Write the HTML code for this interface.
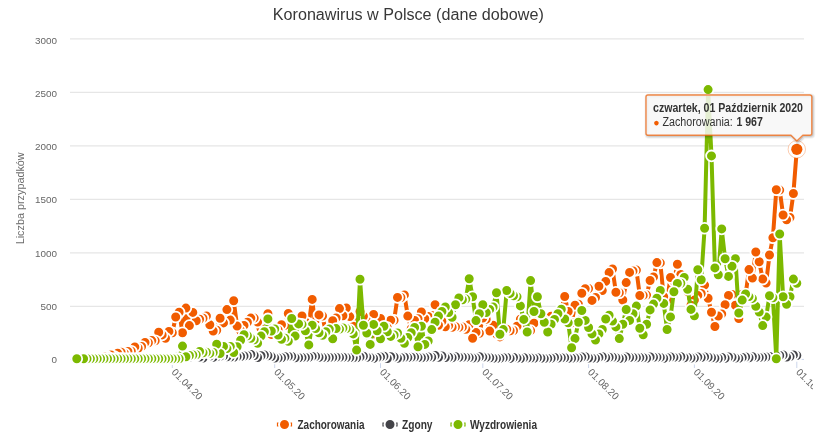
<!DOCTYPE html>
<html lang="pl"><head><meta charset="utf-8"><title>Koronawirus w Polsce (dane dobowe)</title>
<style>html,body{margin:0;padding:0;background:#fff;overflow:hidden}body{width:825px;height:441px}</style></head>
<body>
<svg width="825" height="441" viewBox="0 0 825 441" style="display:block;will-change:transform;font-family:'Liberation Sans',sans-serif">
<rect width="825" height="441" fill="#fff"/>
<path d="M70 38.9 H804" stroke="#e6e6e6" stroke-width="1.2"/>
<path d="M70 92.4 H804" stroke="#e6e6e6" stroke-width="1.2"/>
<path d="M70 145.9 H804" stroke="#e6e6e6" stroke-width="1.2"/>
<path d="M70 199.4 H804" stroke="#e6e6e6" stroke-width="1.2"/>
<path d="M70 252.9 H804" stroke="#e6e6e6" stroke-width="1.2"/>
<path d="M70 306.4 H804" stroke="#e6e6e6" stroke-width="1.2"/>
<path d="M70 359.4 H804" stroke="#ccd6eb" stroke-width="1"/>
<text x="35.0" y="43.8" font-size="9.5" fill="#666" textLength="22.0" lengthAdjust="spacingAndGlyphs">3000</text>
<text x="35.0" y="97.0" font-size="9.5" fill="#666" textLength="22.0" lengthAdjust="spacingAndGlyphs">2500</text>
<text x="35.0" y="150.2" font-size="9.5" fill="#666" textLength="22.0" lengthAdjust="spacingAndGlyphs">2000</text>
<text x="35.0" y="203.4" font-size="9.5" fill="#666" textLength="22.0" lengthAdjust="spacingAndGlyphs">1500</text>
<text x="35.0" y="256.6" font-size="9.5" fill="#666" textLength="22.0" lengthAdjust="spacingAndGlyphs">1000</text>
<text x="40.5" y="309.8" font-size="9.5" fill="#666" textLength="16.5" lengthAdjust="spacingAndGlyphs">500</text>
<text x="51.5" y="363.0" font-size="9.5" fill="#666" textLength="5.5" lengthAdjust="spacingAndGlyphs">0</text>
<text transform="translate(24.3,198.3) rotate(-90)" text-anchor="middle" font-size="10.7" fill="#6c6c6c" textLength="92" lengthAdjust="spacingAndGlyphs">Liczba przypadków</text>
<text x="408.3" y="20" text-anchor="middle" font-size="15.6" fill="#383838" textLength="271" lengthAdjust="spacingAndGlyphs">Koronawirus w Polsce (dane dobowe)</text>
<defs><clipPath id="c"><rect x="0" y="0" width="813" height="441"/></clipPath></defs>
<g clip-path="url(#c)">
<path d="M172.3 359 V368" stroke="#ccd6eb" stroke-width="1"/>
<text transform="translate(171.0,372.8) rotate(45)" font-size="10" fill="#666">01.04.20</text>
<path d="M274.7 359 V368" stroke="#ccd6eb" stroke-width="1"/>
<text transform="translate(273.4,372.8) rotate(45)" font-size="10" fill="#666">01.05.20</text>
<path d="M380.5 359 V368" stroke="#ccd6eb" stroke-width="1"/>
<text transform="translate(379.2,372.8) rotate(45)" font-size="10" fill="#666">01.06.20</text>
<path d="M482.8 359 V368" stroke="#ccd6eb" stroke-width="1"/>
<text transform="translate(481.5,372.8) rotate(45)" font-size="10" fill="#666">01.07.20</text>
<path d="M588.6 359 V368" stroke="#ccd6eb" stroke-width="1"/>
<text transform="translate(587.3,372.8) rotate(45)" font-size="10" fill="#666">01.08.20</text>
<path d="M694.4 359 V368" stroke="#ccd6eb" stroke-width="1"/>
<text transform="translate(693.1,372.8) rotate(45)" font-size="10" fill="#666">01.09.20</text>
<path d="M796.8 359 V368" stroke="#ccd6eb" stroke-width="1"/>
<text transform="translate(795.5,372.8) rotate(45)" font-size="10" fill="#666">01.10.20</text>
</g>
<path d="M76.8 358.6 L83.6 358.3 L87.0 358.6 L90.4 358.2 L93.8 358.1 L97.2 358.2 L100.6 357.7 L104.0 356.6 L107.5 356.9 L110.9 354.9 L114.3 356.5 L117.7 353.2 L121.1 352.2 L124.5 353.5 L127.9 351.5 L131.3 351.2 L134.8 346.9 L138.2 348.3 L141.6 346.5 L145.0 342.5 L148.4 342.7 L151.8 340.6 L155.2 340.8 L158.7 332.2 L162.1 334.9 L165.5 338.2 L168.9 331.4 L172.3 332.8 L175.7 317.0 L179.1 312.2 L182.5 332.7 L185.9 308.1 L189.4 325.6 L192.8 312.4 L196.2 320.7 L199.6 319.3 L203.0 318.2 L206.4 316.0 L209.8 324.8 L213.2 331.0 L216.7 330.2 L220.1 318.2 L223.5 322.9 L226.9 309.6 L230.3 320.1 L233.7 300.7 L237.1 326.1 L240.6 330.7 L244.0 325.4 L247.4 322.3 L250.8 318.1 L254.2 318.1 L257.6 322.1 L261.0 328.4 L264.4 325.1 L267.9 313.8 L271.3 334.4 L274.7 334.4 L278.1 330.0 L281.5 324.8 L284.9 325.4 L288.3 313.5 L291.7 325.8 L295.1 326.0 L298.6 324.7 L302.0 316.0 L305.4 322.0 L308.8 323.6 L312.2 299.4 L315.6 328.6 L319.0 314.9 L322.5 316.0 L325.9 333.0 L329.3 329.7 L332.7 320.8 L336.1 317.9 L339.5 308.6 L342.9 315.7 L346.3 308.0 L349.8 316.6 L353.2 326.2 L356.6 322.4 L360.0 311.5 L363.4 316.2 L366.8 321.2 L370.2 323.6 L373.6 314.4 L377.1 335.4 L380.5 318.4 L383.9 334.2 L387.3 327.6 L390.7 320.3 L394.1 320.2 L397.5 297.4 L400.9 297.5 L404.4 294.9 L407.8 316.1 L411.2 328.7 L414.6 320.5 L418.0 318.7 L421.4 311.9 L424.8 318.8 L428.2 316.5 L431.7 315.4 L435.1 304.8 L438.5 325.3 L441.9 321.2 L445.3 326.7 L448.7 325.6 L452.1 327.2 L455.5 326.8 L458.9 327.4 L462.4 327.0 L465.8 329.3 L469.2 324.7 L472.6 338.2 L476.0 332.4 L479.4 333.3 L482.8 318.0 L486.2 319.2 L489.7 331.1 L493.1 325.3 L496.5 334.1 L499.9 336.9 L503.3 331.3 L506.7 329.2 L510.1 330.8 L513.5 330.5 L517.0 326.2 L520.4 319.3 L523.8 326.9 L527.2 330.3 L530.6 330.6 L534.0 323.2 L537.4 321.1 L540.9 322.6 L544.3 320.6 L547.7 329.0 L551.1 316.2 L554.5 318.2 L557.9 314.2 L561.3 309.9 L564.7 296.5 L568.2 311.5 L571.6 322.8 L575.0 305.3 L578.4 304.2 L581.8 293.2 L585.2 288.8 L588.6 288.6 L592.0 300.4 L595.5 297.5 L598.9 286.3 L602.3 290.6 L605.7 281.4 L609.1 272.6 L612.5 269.0 L615.9 292.3 L619.3 292.8 L622.8 300.0 L626.2 282.6 L629.6 272.4 L633.0 270.9 L636.4 270.1 L639.8 295.5 L643.2 295.4 L646.6 295.1 L650.1 280.5 L653.5 277.0 L656.9 262.6 L660.3 262.9 L663.7 296.8 L667.1 300.4 L670.5 277.5 L673.9 281.1 L677.4 264.3 L680.8 274.5 L684.2 277.9 L687.6 291.5 L691.0 305.3 L694.4 300.1 L697.8 295.4 L701.2 293.5 L704.6 285.1 L708.1 298.3 L711.5 312.2 L714.9 326.5 L718.3 316.1 L721.7 313.9 L725.1 304.8 L728.5 295.5 L732.0 294.5 L735.4 305.3 L738.8 318.6 L742.2 294.3 L745.6 294.8 L749.0 269.6 L752.4 278.1 L755.8 252.0 L759.2 261.8 L762.7 279.1 L766.1 283.0 L769.5 255.0 L772.9 237.8 L776.3 189.7 L779.7 190.1 L783.1 215.0 L786.6 219.7 L790.0 217.5 L793.4 193.5 L796.8 149.3" fill="none" stroke="#f15c00" stroke-width="4" stroke-linejoin="round" stroke-linecap="round"/>
<g fill="#f15c00" stroke="#fff" stroke-width="1.8">
<circle cx="793.4" cy="193.5" r="5.4"/>
<circle cx="790.0" cy="217.5" r="5.4"/>
<circle cx="786.6" cy="219.7" r="5.4"/>
<circle cx="783.1" cy="215.0" r="5.4"/>
<circle cx="779.7" cy="190.1" r="5.4"/>
<circle cx="776.3" cy="189.7" r="5.4"/>
<circle cx="772.9" cy="237.8" r="5.4"/>
<circle cx="769.5" cy="255.0" r="5.4"/>
<circle cx="766.1" cy="283.0" r="5.4"/>
<circle cx="762.7" cy="279.1" r="5.4"/>
<circle cx="759.2" cy="261.8" r="5.4"/>
<circle cx="755.8" cy="252.0" r="5.4"/>
<circle cx="752.4" cy="278.1" r="5.4"/>
<circle cx="749.0" cy="269.6" r="5.4"/>
<circle cx="745.6" cy="294.8" r="5.4"/>
<circle cx="742.2" cy="294.3" r="5.4"/>
<circle cx="738.8" cy="318.6" r="5.4"/>
<circle cx="735.4" cy="305.3" r="5.4"/>
<circle cx="732.0" cy="294.5" r="5.4"/>
<circle cx="728.5" cy="295.5" r="5.4"/>
<circle cx="725.1" cy="304.8" r="5.4"/>
<circle cx="721.7" cy="313.9" r="5.4"/>
<circle cx="718.3" cy="316.1" r="5.4"/>
<circle cx="714.9" cy="326.5" r="5.4"/>
<circle cx="711.5" cy="312.2" r="5.4"/>
<circle cx="708.1" cy="298.3" r="5.4"/>
<circle cx="704.6" cy="285.1" r="5.4"/>
<circle cx="701.2" cy="293.5" r="5.4"/>
<circle cx="697.8" cy="295.4" r="5.4"/>
<circle cx="694.4" cy="300.1" r="5.4"/>
<circle cx="691.0" cy="305.3" r="5.4"/>
<circle cx="687.6" cy="291.5" r="5.4"/>
<circle cx="684.2" cy="277.9" r="5.4"/>
<circle cx="680.8" cy="274.5" r="5.4"/>
<circle cx="677.4" cy="264.3" r="5.4"/>
<circle cx="673.9" cy="281.1" r="5.4"/>
<circle cx="670.5" cy="277.5" r="5.4"/>
<circle cx="667.1" cy="300.4" r="5.4"/>
<circle cx="663.7" cy="296.8" r="5.4"/>
<circle cx="660.3" cy="262.9" r="5.4"/>
<circle cx="656.9" cy="262.6" r="5.4"/>
<circle cx="653.5" cy="277.0" r="5.4"/>
<circle cx="650.1" cy="280.5" r="5.4"/>
<circle cx="646.6" cy="295.1" r="5.4"/>
<circle cx="643.2" cy="295.4" r="5.4"/>
<circle cx="639.8" cy="295.5" r="5.4"/>
<circle cx="636.4" cy="270.1" r="5.4"/>
<circle cx="633.0" cy="270.9" r="5.4"/>
<circle cx="629.6" cy="272.4" r="5.4"/>
<circle cx="626.2" cy="282.6" r="5.4"/>
<circle cx="622.8" cy="300.0" r="5.4"/>
<circle cx="619.3" cy="292.8" r="5.4"/>
<circle cx="615.9" cy="292.3" r="5.4"/>
<circle cx="612.5" cy="269.0" r="5.4"/>
<circle cx="609.1" cy="272.6" r="5.4"/>
<circle cx="605.7" cy="281.4" r="5.4"/>
<circle cx="602.3" cy="290.6" r="5.4"/>
<circle cx="598.9" cy="286.3" r="5.4"/>
<circle cx="595.5" cy="297.5" r="5.4"/>
<circle cx="592.0" cy="300.4" r="5.4"/>
<circle cx="588.6" cy="288.6" r="5.4"/>
<circle cx="585.2" cy="288.8" r="5.4"/>
<circle cx="581.8" cy="293.2" r="5.4"/>
<circle cx="578.4" cy="304.2" r="5.4"/>
<circle cx="575.0" cy="305.3" r="5.4"/>
<circle cx="571.6" cy="322.8" r="5.4"/>
<circle cx="568.2" cy="311.5" r="5.4"/>
<circle cx="564.7" cy="296.5" r="5.4"/>
<circle cx="561.3" cy="309.9" r="5.4"/>
<circle cx="557.9" cy="314.2" r="5.4"/>
<circle cx="554.5" cy="318.2" r="5.4"/>
<circle cx="551.1" cy="316.2" r="5.4"/>
<circle cx="547.7" cy="329.0" r="5.4"/>
<circle cx="544.3" cy="320.6" r="5.4"/>
<circle cx="540.9" cy="322.6" r="5.4"/>
<circle cx="537.4" cy="321.1" r="5.4"/>
<circle cx="534.0" cy="323.2" r="5.4"/>
<circle cx="530.6" cy="330.6" r="5.4"/>
<circle cx="527.2" cy="330.3" r="5.4"/>
<circle cx="523.8" cy="326.9" r="5.4"/>
<circle cx="520.4" cy="319.3" r="5.4"/>
<circle cx="517.0" cy="326.2" r="5.4"/>
<circle cx="513.5" cy="330.5" r="5.4"/>
<circle cx="510.1" cy="330.8" r="5.4"/>
<circle cx="506.7" cy="329.2" r="5.4"/>
<circle cx="503.3" cy="331.3" r="5.4"/>
<circle cx="499.9" cy="336.9" r="5.4"/>
<circle cx="496.5" cy="334.1" r="5.4"/>
<circle cx="493.1" cy="325.3" r="5.4"/>
<circle cx="489.7" cy="331.1" r="5.4"/>
<circle cx="486.2" cy="319.2" r="5.4"/>
<circle cx="482.8" cy="318.0" r="5.4"/>
<circle cx="479.4" cy="333.3" r="5.4"/>
<circle cx="476.0" cy="332.4" r="5.4"/>
<circle cx="472.6" cy="338.2" r="5.4"/>
<circle cx="469.2" cy="324.7" r="5.4"/>
<circle cx="465.8" cy="329.3" r="5.4"/>
<circle cx="462.4" cy="327.0" r="5.4"/>
<circle cx="458.9" cy="327.4" r="5.4"/>
<circle cx="455.5" cy="326.8" r="5.4"/>
<circle cx="452.1" cy="327.2" r="5.4"/>
<circle cx="448.7" cy="325.6" r="5.4"/>
<circle cx="445.3" cy="326.7" r="5.4"/>
<circle cx="441.9" cy="321.2" r="5.4"/>
<circle cx="438.5" cy="325.3" r="5.4"/>
<circle cx="435.1" cy="304.8" r="5.4"/>
<circle cx="431.7" cy="315.4" r="5.4"/>
<circle cx="428.2" cy="316.5" r="5.4"/>
<circle cx="424.8" cy="318.8" r="5.4"/>
<circle cx="421.4" cy="311.9" r="5.4"/>
<circle cx="418.0" cy="318.7" r="5.4"/>
<circle cx="414.6" cy="320.5" r="5.4"/>
<circle cx="411.2" cy="328.7" r="5.4"/>
<circle cx="407.8" cy="316.1" r="5.4"/>
<circle cx="404.4" cy="294.9" r="5.4"/>
<circle cx="400.9" cy="297.5" r="5.4"/>
<circle cx="397.5" cy="297.4" r="5.4"/>
<circle cx="394.1" cy="320.2" r="5.4"/>
<circle cx="390.7" cy="320.3" r="5.4"/>
<circle cx="387.3" cy="327.6" r="5.4"/>
<circle cx="383.9" cy="334.2" r="5.4"/>
<circle cx="380.5" cy="318.4" r="5.4"/>
<circle cx="377.1" cy="335.4" r="5.4"/>
<circle cx="373.6" cy="314.4" r="5.4"/>
<circle cx="370.2" cy="323.6" r="5.4"/>
<circle cx="366.8" cy="321.2" r="5.4"/>
<circle cx="363.4" cy="316.2" r="5.4"/>
<circle cx="360.0" cy="311.5" r="5.4"/>
<circle cx="356.6" cy="322.4" r="5.4"/>
<circle cx="353.2" cy="326.2" r="5.4"/>
<circle cx="349.8" cy="316.6" r="5.4"/>
<circle cx="346.3" cy="308.0" r="5.4"/>
<circle cx="342.9" cy="315.7" r="5.4"/>
<circle cx="339.5" cy="308.6" r="5.4"/>
<circle cx="336.1" cy="317.9" r="5.4"/>
<circle cx="332.7" cy="320.8" r="5.4"/>
<circle cx="329.3" cy="329.7" r="5.4"/>
<circle cx="325.9" cy="333.0" r="5.4"/>
<circle cx="322.5" cy="316.0" r="5.4"/>
<circle cx="319.0" cy="314.9" r="5.4"/>
<circle cx="315.6" cy="328.6" r="5.4"/>
<circle cx="312.2" cy="299.4" r="5.4"/>
<circle cx="308.8" cy="323.6" r="5.4"/>
<circle cx="305.4" cy="322.0" r="5.4"/>
<circle cx="302.0" cy="316.0" r="5.4"/>
<circle cx="298.6" cy="324.7" r="5.4"/>
<circle cx="295.1" cy="326.0" r="5.4"/>
<circle cx="291.7" cy="325.8" r="5.4"/>
<circle cx="288.3" cy="313.5" r="5.4"/>
<circle cx="284.9" cy="325.4" r="5.4"/>
<circle cx="281.5" cy="324.8" r="5.4"/>
<circle cx="278.1" cy="330.0" r="5.4"/>
<circle cx="274.7" cy="334.4" r="5.4"/>
<circle cx="271.3" cy="334.4" r="5.4"/>
<circle cx="267.9" cy="313.8" r="5.4"/>
<circle cx="264.4" cy="325.1" r="5.4"/>
<circle cx="261.0" cy="328.4" r="5.4"/>
<circle cx="257.6" cy="322.1" r="5.4"/>
<circle cx="254.2" cy="318.1" r="5.4"/>
<circle cx="250.8" cy="318.1" r="5.4"/>
<circle cx="247.4" cy="322.3" r="5.4"/>
<circle cx="244.0" cy="325.4" r="5.4"/>
<circle cx="240.6" cy="330.7" r="5.4"/>
<circle cx="237.1" cy="326.1" r="5.4"/>
<circle cx="233.7" cy="300.7" r="5.4"/>
<circle cx="230.3" cy="320.1" r="5.4"/>
<circle cx="226.9" cy="309.6" r="5.4"/>
<circle cx="223.5" cy="322.9" r="5.4"/>
<circle cx="220.1" cy="318.2" r="5.4"/>
<circle cx="216.7" cy="330.2" r="5.4"/>
<circle cx="213.2" cy="331.0" r="5.4"/>
<circle cx="209.8" cy="324.8" r="5.4"/>
<circle cx="206.4" cy="316.0" r="5.4"/>
<circle cx="203.0" cy="318.2" r="5.4"/>
<circle cx="199.6" cy="319.3" r="5.4"/>
<circle cx="196.2" cy="320.7" r="5.4"/>
<circle cx="192.8" cy="312.4" r="5.4"/>
<circle cx="189.4" cy="325.6" r="5.4"/>
<circle cx="185.9" cy="308.1" r="5.4"/>
<circle cx="182.5" cy="332.7" r="5.4"/>
<circle cx="179.1" cy="312.2" r="5.4"/>
<circle cx="175.7" cy="317.0" r="5.4"/>
<circle cx="172.3" cy="332.8" r="5.4"/>
<circle cx="168.9" cy="331.4" r="5.4"/>
<circle cx="165.5" cy="338.2" r="5.4"/>
<circle cx="162.1" cy="334.9" r="5.4"/>
<circle cx="158.7" cy="332.2" r="5.4"/>
<circle cx="155.2" cy="340.8" r="5.4"/>
<circle cx="151.8" cy="340.6" r="5.4"/>
<circle cx="148.4" cy="342.7" r="5.4"/>
<circle cx="145.0" cy="342.5" r="5.4"/>
<circle cx="141.6" cy="346.5" r="5.4"/>
<circle cx="138.2" cy="348.3" r="5.4"/>
<circle cx="134.8" cy="346.9" r="5.4"/>
<circle cx="131.3" cy="351.2" r="5.4"/>
<circle cx="127.9" cy="351.5" r="5.4"/>
<circle cx="124.5" cy="353.5" r="5.4"/>
<circle cx="121.1" cy="352.2" r="5.4"/>
<circle cx="117.7" cy="353.2" r="5.4"/>
<circle cx="114.3" cy="356.5" r="5.4"/>
<circle cx="110.9" cy="354.9" r="5.4"/>
<circle cx="107.5" cy="356.9" r="5.4"/>
<circle cx="104.0" cy="356.6" r="5.4"/>
<circle cx="100.6" cy="357.7" r="5.4"/>
<circle cx="97.2" cy="358.2" r="5.4"/>
<circle cx="93.8" cy="358.1" r="5.4"/>
<circle cx="90.4" cy="358.2" r="5.4"/>
<circle cx="87.0" cy="358.6" r="5.4"/>
<circle cx="83.6" cy="358.3" r="5.4"/>
<circle cx="76.8" cy="358.6" r="5.4"/>
</g>
<circle cx="796.8" cy="149.3" r="8.7" fill="#fff" stroke="#f15c00" stroke-opacity="0.45" stroke-width="0.7"/>
<circle cx="796.8" cy="149.3" r="5.6" fill="#f15c00"/>
<path d="M76.8 358.7 L83.6 358.7 L87.0 358.7 L90.4 358.7 L93.8 358.7 L97.2 358.7 L100.6 358.7 L104.0 358.6 L107.5 358.6 L110.9 358.6 L114.3 358.7 L117.7 358.6 L121.1 358.6 L124.5 358.7 L127.9 358.7 L131.3 358.7 L134.8 358.7 L138.2 358.5 L141.6 358.6 L145.0 358.5 L148.4 358.3 L151.8 358.5 L155.2 358.5 L158.7 358.5 L162.1 358.5 L165.5 358.1 L168.9 358.2 L172.3 357.6 L175.7 357.2 L179.1 357.2 L182.5 357.8 L185.9 357.1 L189.4 357.3 L192.8 356.4 L196.2 355.5 L199.6 357.1 L203.0 358.0 L206.4 355.8 L209.8 356.1 L213.2 357.3 L216.7 356.8 L220.1 356.3 L223.5 355.7 L226.9 356.8 L230.3 357.1 L233.7 357.3 L237.1 356.6 L240.6 356.5 L244.0 356.0 L247.4 355.7 L250.8 354.4 L254.2 355.5 L257.6 357.5 L261.0 355.8 L264.4 355.1 L267.9 355.7 L271.3 356.6 L274.7 358.0 L278.1 358.1 L281.5 357.8 L284.9 356.8 L288.3 356.4 L291.7 356.5 L295.1 357.7 L298.6 357.7 L302.0 357.6 L305.4 357.5 L308.8 357.2 L312.2 356.4 L315.6 356.4 L319.0 357.3 L322.5 357.6 L325.9 357.8 L329.3 357.5 L332.7 357.4 L336.1 357.3 L339.5 357.4 L342.9 357.3 L346.3 357.6 L349.8 357.5 L353.2 357.8 L356.6 357.7 L360.0 356.9 L363.4 356.3 L366.8 357.3 L370.2 357.6 L373.6 358.4 L377.1 357.6 L380.5 356.9 L383.9 356.3 L387.3 358.5 L390.7 356.7 L394.1 357.0 L397.5 358.3 L400.9 357.7 L404.4 357.2 L407.8 357.6 L411.2 357.3 L414.6 357.1 L418.0 357.6 L421.4 357.7 L424.8 357.6 L428.2 357.0 L431.7 357.2 L435.1 355.5 L438.5 357.2 L441.9 356.0 L445.3 357.6 L448.7 357.3 L452.1 357.8 L455.5 356.7 L458.9 357.2 L462.4 357.3 L465.8 357.4 L469.2 357.6 L472.6 358.1 L476.0 358.1 L479.4 356.7 L482.8 357.1 L486.2 357.4 L489.7 357.8 L493.1 358.2 L496.5 358.5 L499.9 358.3 L503.3 357.8 L506.7 357.4 L510.1 358.4 L513.5 357.5 L517.0 358.1 L520.4 358.6 L523.8 357.8 L527.2 358.0 L530.6 358.1 L534.0 358.3 L537.4 357.7 L540.9 358.2 L544.3 358.6 L547.7 358.4 L551.1 358.2 L554.5 357.4 L557.9 358.0 L561.3 357.7 L564.7 357.8 L568.2 358.4 L571.6 358.2 L575.0 358.1 L578.4 358.1 L581.8 357.1 L585.2 356.8 L588.6 358.0 L592.0 358.2 L595.5 358.5 L598.9 357.4 L602.3 356.8 L605.7 357.7 L609.1 357.3 L612.5 357.3 L615.9 357.8 L619.3 358.5 L622.8 358.2 L626.2 357.0 L629.6 357.5 L633.0 357.4 L636.4 357.7 L639.8 357.6 L643.2 357.8 L646.6 358.3 L650.1 356.9 L653.5 357.3 L656.9 357.3 L660.3 357.4 L663.7 358.3 L667.1 357.7 L670.5 357.0 L673.9 357.4 L677.4 357.5 L680.8 356.8 L684.2 357.7 L687.6 357.4 L691.0 358.1 L694.4 358.1 L697.8 357.1 L701.2 357.6 L704.6 356.9 L708.1 357.3 L711.5 357.7 L714.9 358.3 L718.3 358.5 L721.7 357.4 L725.1 358.2 L728.5 357.0 L732.0 357.3 L735.4 358.1 L738.8 358.4 L742.2 357.4 L745.6 357.0 L749.0 357.7 L752.4 356.7 L755.8 357.4 L759.2 357.5 L762.7 357.2 L766.1 357.1 L769.5 356.4 L772.9 357.1 L776.3 356.0 L779.7 355.5 L783.1 355.0 L786.6 357.1 L790.0 356.6 L793.4 354.9 L796.8 355.5" fill="none" stroke="#434348" stroke-width="4" stroke-linejoin="round" stroke-linecap="round"/>
<g fill="#434348" stroke="#fff" stroke-width="1.8">
<circle cx="796.8" cy="355.5" r="5.4"/>
<circle cx="793.4" cy="354.9" r="5.4"/>
<circle cx="790.0" cy="356.6" r="5.4"/>
<circle cx="786.6" cy="357.1" r="5.4"/>
<circle cx="783.1" cy="355.0" r="5.4"/>
<circle cx="779.7" cy="355.5" r="5.4"/>
<circle cx="776.3" cy="356.0" r="5.4"/>
<circle cx="772.9" cy="357.1" r="5.4"/>
<circle cx="769.5" cy="356.4" r="5.4"/>
<circle cx="766.1" cy="357.1" r="5.4"/>
<circle cx="762.7" cy="357.2" r="5.4"/>
<circle cx="759.2" cy="357.5" r="5.4"/>
<circle cx="755.8" cy="357.4" r="5.4"/>
<circle cx="752.4" cy="356.7" r="5.4"/>
<circle cx="749.0" cy="357.7" r="5.4"/>
<circle cx="745.6" cy="357.0" r="5.4"/>
<circle cx="742.2" cy="357.4" r="5.4"/>
<circle cx="738.8" cy="358.4" r="5.4"/>
<circle cx="735.4" cy="358.1" r="5.4"/>
<circle cx="732.0" cy="357.3" r="5.4"/>
<circle cx="728.5" cy="357.0" r="5.4"/>
<circle cx="725.1" cy="358.2" r="5.4"/>
<circle cx="721.7" cy="357.4" r="5.4"/>
<circle cx="718.3" cy="358.5" r="5.4"/>
<circle cx="714.9" cy="358.3" r="5.4"/>
<circle cx="711.5" cy="357.7" r="5.4"/>
<circle cx="708.1" cy="357.3" r="5.4"/>
<circle cx="704.6" cy="356.9" r="5.4"/>
<circle cx="701.2" cy="357.6" r="5.4"/>
<circle cx="697.8" cy="357.1" r="5.4"/>
<circle cx="694.4" cy="358.1" r="5.4"/>
<circle cx="691.0" cy="358.1" r="5.4"/>
<circle cx="687.6" cy="357.4" r="5.4"/>
<circle cx="684.2" cy="357.7" r="5.4"/>
<circle cx="680.8" cy="356.8" r="5.4"/>
<circle cx="677.4" cy="357.5" r="5.4"/>
<circle cx="673.9" cy="357.4" r="5.4"/>
<circle cx="670.5" cy="357.0" r="5.4"/>
<circle cx="667.1" cy="357.7" r="5.4"/>
<circle cx="663.7" cy="358.3" r="5.4"/>
<circle cx="660.3" cy="357.4" r="5.4"/>
<circle cx="656.9" cy="357.3" r="5.4"/>
<circle cx="653.5" cy="357.3" r="5.4"/>
<circle cx="650.1" cy="356.9" r="5.4"/>
<circle cx="646.6" cy="358.3" r="5.4"/>
<circle cx="643.2" cy="357.8" r="5.4"/>
<circle cx="639.8" cy="357.6" r="5.4"/>
<circle cx="636.4" cy="357.7" r="5.4"/>
<circle cx="633.0" cy="357.4" r="5.4"/>
<circle cx="629.6" cy="357.5" r="5.4"/>
<circle cx="626.2" cy="357.0" r="5.4"/>
<circle cx="622.8" cy="358.2" r="5.4"/>
<circle cx="619.3" cy="358.5" r="5.4"/>
<circle cx="615.9" cy="357.8" r="5.4"/>
<circle cx="612.5" cy="357.3" r="5.4"/>
<circle cx="609.1" cy="357.3" r="5.4"/>
<circle cx="605.7" cy="357.7" r="5.4"/>
<circle cx="602.3" cy="356.8" r="5.4"/>
<circle cx="598.9" cy="357.4" r="5.4"/>
<circle cx="595.5" cy="358.5" r="5.4"/>
<circle cx="592.0" cy="358.2" r="5.4"/>
<circle cx="588.6" cy="358.0" r="5.4"/>
<circle cx="585.2" cy="356.8" r="5.4"/>
<circle cx="581.8" cy="357.1" r="5.4"/>
<circle cx="578.4" cy="358.1" r="5.4"/>
<circle cx="575.0" cy="358.1" r="5.4"/>
<circle cx="571.6" cy="358.2" r="5.4"/>
<circle cx="568.2" cy="358.4" r="5.4"/>
<circle cx="564.7" cy="357.8" r="5.4"/>
<circle cx="561.3" cy="357.7" r="5.4"/>
<circle cx="557.9" cy="358.0" r="5.4"/>
<circle cx="554.5" cy="357.4" r="5.4"/>
<circle cx="551.1" cy="358.2" r="5.4"/>
<circle cx="547.7" cy="358.4" r="5.4"/>
<circle cx="544.3" cy="358.6" r="5.4"/>
<circle cx="540.9" cy="358.2" r="5.4"/>
<circle cx="537.4" cy="357.7" r="5.4"/>
<circle cx="534.0" cy="358.3" r="5.4"/>
<circle cx="530.6" cy="358.1" r="5.4"/>
<circle cx="527.2" cy="358.0" r="5.4"/>
<circle cx="523.8" cy="357.8" r="5.4"/>
<circle cx="520.4" cy="358.6" r="5.4"/>
<circle cx="517.0" cy="358.1" r="5.4"/>
<circle cx="513.5" cy="357.5" r="5.4"/>
<circle cx="510.1" cy="358.4" r="5.4"/>
<circle cx="506.7" cy="357.4" r="5.4"/>
<circle cx="503.3" cy="357.8" r="5.4"/>
<circle cx="499.9" cy="358.3" r="5.4"/>
<circle cx="496.5" cy="358.5" r="5.4"/>
<circle cx="493.1" cy="358.2" r="5.4"/>
<circle cx="489.7" cy="357.8" r="5.4"/>
<circle cx="486.2" cy="357.4" r="5.4"/>
<circle cx="482.8" cy="357.1" r="5.4"/>
<circle cx="479.4" cy="356.7" r="5.4"/>
<circle cx="476.0" cy="358.1" r="5.4"/>
<circle cx="472.6" cy="358.1" r="5.4"/>
<circle cx="469.2" cy="357.6" r="5.4"/>
<circle cx="465.8" cy="357.4" r="5.4"/>
<circle cx="462.4" cy="357.3" r="5.4"/>
<circle cx="458.9" cy="357.2" r="5.4"/>
<circle cx="455.5" cy="356.7" r="5.4"/>
<circle cx="452.1" cy="357.8" r="5.4"/>
<circle cx="448.7" cy="357.3" r="5.4"/>
<circle cx="445.3" cy="357.6" r="5.4"/>
<circle cx="441.9" cy="356.0" r="5.4"/>
<circle cx="438.5" cy="357.2" r="5.4"/>
<circle cx="435.1" cy="355.5" r="5.4"/>
<circle cx="431.7" cy="357.2" r="5.4"/>
<circle cx="428.2" cy="357.0" r="5.4"/>
<circle cx="424.8" cy="357.6" r="5.4"/>
<circle cx="421.4" cy="357.7" r="5.4"/>
<circle cx="418.0" cy="357.6" r="5.4"/>
<circle cx="414.6" cy="357.1" r="5.4"/>
<circle cx="411.2" cy="357.3" r="5.4"/>
<circle cx="407.8" cy="357.6" r="5.4"/>
<circle cx="404.4" cy="357.2" r="5.4"/>
<circle cx="400.9" cy="357.7" r="5.4"/>
<circle cx="397.5" cy="358.3" r="5.4"/>
<circle cx="394.1" cy="357.0" r="5.4"/>
<circle cx="390.7" cy="356.7" r="5.4"/>
<circle cx="387.3" cy="358.5" r="5.4"/>
<circle cx="383.9" cy="356.3" r="5.4"/>
<circle cx="380.5" cy="356.9" r="5.4"/>
<circle cx="377.1" cy="357.6" r="5.4"/>
<circle cx="373.6" cy="358.4" r="5.4"/>
<circle cx="370.2" cy="357.6" r="5.4"/>
<circle cx="366.8" cy="357.3" r="5.4"/>
<circle cx="363.4" cy="356.3" r="5.4"/>
<circle cx="360.0" cy="356.9" r="5.4"/>
<circle cx="356.6" cy="357.7" r="5.4"/>
<circle cx="353.2" cy="357.8" r="5.4"/>
<circle cx="349.8" cy="357.5" r="5.4"/>
<circle cx="346.3" cy="357.6" r="5.4"/>
<circle cx="342.9" cy="357.3" r="5.4"/>
<circle cx="339.5" cy="357.4" r="5.4"/>
<circle cx="336.1" cy="357.3" r="5.4"/>
<circle cx="332.7" cy="357.4" r="5.4"/>
<circle cx="329.3" cy="357.5" r="5.4"/>
<circle cx="325.9" cy="357.8" r="5.4"/>
<circle cx="322.5" cy="357.6" r="5.4"/>
<circle cx="319.0" cy="357.3" r="5.4"/>
<circle cx="315.6" cy="356.4" r="5.4"/>
<circle cx="312.2" cy="356.4" r="5.4"/>
<circle cx="308.8" cy="357.2" r="5.4"/>
<circle cx="305.4" cy="357.5" r="5.4"/>
<circle cx="302.0" cy="357.6" r="5.4"/>
<circle cx="298.6" cy="357.7" r="5.4"/>
<circle cx="295.1" cy="357.7" r="5.4"/>
<circle cx="291.7" cy="356.5" r="5.4"/>
<circle cx="288.3" cy="356.4" r="5.4"/>
<circle cx="284.9" cy="356.8" r="5.4"/>
<circle cx="281.5" cy="357.8" r="5.4"/>
<circle cx="278.1" cy="358.1" r="5.4"/>
<circle cx="274.7" cy="358.0" r="5.4"/>
<circle cx="271.3" cy="356.6" r="5.4"/>
<circle cx="267.9" cy="355.7" r="5.4"/>
<circle cx="264.4" cy="355.1" r="5.4"/>
<circle cx="261.0" cy="355.8" r="5.4"/>
<circle cx="257.6" cy="357.5" r="5.4"/>
<circle cx="254.2" cy="355.5" r="5.4"/>
<circle cx="250.8" cy="354.4" r="5.4"/>
<circle cx="247.4" cy="355.7" r="5.4"/>
<circle cx="244.0" cy="356.0" r="5.4"/>
<circle cx="240.6" cy="356.5" r="5.4"/>
<circle cx="237.1" cy="356.6" r="5.4"/>
<circle cx="233.7" cy="357.3" r="5.4"/>
<circle cx="230.3" cy="357.1" r="5.4"/>
<circle cx="226.9" cy="356.8" r="5.4"/>
<circle cx="223.5" cy="355.7" r="5.4"/>
<circle cx="220.1" cy="356.3" r="5.4"/>
<circle cx="216.7" cy="356.8" r="5.4"/>
<circle cx="213.2" cy="357.3" r="5.4"/>
<circle cx="209.8" cy="356.1" r="5.4"/>
<circle cx="206.4" cy="355.8" r="5.4"/>
<circle cx="203.0" cy="358.0" r="5.4"/>
<circle cx="199.6" cy="357.1" r="5.4"/>
<circle cx="196.2" cy="355.5" r="5.4"/>
<circle cx="192.8" cy="356.4" r="5.4"/>
<circle cx="189.4" cy="357.3" r="5.4"/>
<circle cx="185.9" cy="357.1" r="5.4"/>
<circle cx="182.5" cy="357.8" r="5.4"/>
<circle cx="179.1" cy="357.2" r="5.4"/>
<circle cx="175.7" cy="357.2" r="5.4"/>
<circle cx="172.3" cy="357.6" r="5.4"/>
<circle cx="168.9" cy="358.2" r="5.4"/>
<circle cx="165.5" cy="358.1" r="5.4"/>
<circle cx="162.1" cy="358.5" r="5.4"/>
<circle cx="158.7" cy="358.5" r="5.4"/>
<circle cx="155.2" cy="358.5" r="5.4"/>
<circle cx="151.8" cy="358.5" r="5.4"/>
<circle cx="148.4" cy="358.3" r="5.4"/>
<circle cx="145.0" cy="358.5" r="5.4"/>
<circle cx="141.6" cy="358.6" r="5.4"/>
<circle cx="138.2" cy="358.5" r="5.4"/>
<circle cx="134.8" cy="358.7" r="5.4"/>
<circle cx="131.3" cy="358.7" r="5.4"/>
<circle cx="127.9" cy="358.7" r="5.4"/>
<circle cx="124.5" cy="358.7" r="5.4"/>
<circle cx="121.1" cy="358.6" r="5.4"/>
<circle cx="117.7" cy="358.6" r="5.4"/>
<circle cx="114.3" cy="358.7" r="5.4"/>
<circle cx="110.9" cy="358.6" r="5.4"/>
<circle cx="107.5" cy="358.6" r="5.4"/>
<circle cx="104.0" cy="358.6" r="5.4"/>
<circle cx="100.6" cy="358.7" r="5.4"/>
<circle cx="97.2" cy="358.7" r="5.4"/>
<circle cx="93.8" cy="358.7" r="5.4"/>
<circle cx="90.4" cy="358.7" r="5.4"/>
<circle cx="87.0" cy="358.7" r="5.4"/>
<circle cx="83.6" cy="358.7" r="5.4"/>
<circle cx="76.8" cy="358.7" r="5.4"/>
</g>
<path d="M76.8 358.7 L83.6 358.7 L87.0 358.7 L90.4 358.7 L93.8 358.7 L97.2 358.7 L100.6 358.7 L104.0 358.7 L107.5 358.7 L110.9 358.7 L114.3 358.7 L117.7 358.7 L121.1 358.7 L124.5 358.7 L127.9 358.7 L131.3 358.7 L134.8 358.7 L138.2 358.7 L141.6 358.7 L145.0 358.7 L148.4 358.7 L151.8 358.7 L155.2 358.7 L158.7 358.7 L162.1 358.7 L165.5 358.7 L168.9 358.7 L172.3 358.7 L175.7 358.7 L179.1 358.7 L182.5 346.1 L185.9 356.8 L189.4 355.5 L192.8 355.0 L196.2 354.7 L199.6 351.5 L203.0 352.8 L206.4 352.3 L209.8 353.4 L213.2 352.5 L216.7 344.3 L220.1 353.5 L223.5 346.4 L226.9 348.6 L230.3 346.4 L233.7 352.5 L237.1 346.7 L240.6 340.3 L244.0 334.7 L247.4 335.8 L250.8 338.2 L254.2 339.8 L257.6 343.3 L261.0 336.1 L264.4 331.8 L267.9 318.9 L271.3 331.0 L274.7 329.0 L278.1 335.0 L281.5 339.2 L284.9 338.2 L288.3 341.2 L291.7 318.5 L295.1 336.1 L298.6 323.9 L302.0 324.4 L305.4 330.8 L308.8 344.9 L312.2 325.2 L315.6 328.6 L319.0 332.8 L322.5 335.3 L325.9 331.8 L329.3 329.1 L332.7 338.7 L336.1 328.6 L339.5 329.1 L342.9 328.0 L346.3 328.6 L349.8 329.6 L353.2 333.9 L356.6 350.1 L360.0 279.2 L363.4 325.2 L366.8 333.0 L370.2 344.4 L373.6 324.4 L377.1 330.8 L380.5 338.7 L383.9 326.2 L387.3 331.8 L390.7 336.4 L394.1 335.0 L397.5 333.0 L400.9 338.2 L404.4 343.3 L407.8 337.6 L411.2 332.8 L414.6 327.4 L418.0 346.7 L421.4 326.2 L424.8 344.4 L428.2 341.0 L431.7 329.6 L435.1 322.2 L438.5 316.1 L441.9 311.5 L445.3 307.0 L448.7 312.6 L452.1 317.2 L455.5 304.7 L458.9 297.9 L462.4 299.8 L465.8 299.1 L469.2 278.7 L472.6 296.8 L476.0 320.6 L479.4 313.7 L482.8 304.7 L486.2 312.6 L489.7 309.4 L493.1 307.0 L496.5 292.7 L499.9 334.2 L503.3 329.6 L506.7 290.5 L510.1 293.4 L513.5 295.7 L517.0 296.8 L520.4 305.9 L523.8 319.4 L527.2 332.0 L530.6 280.6 L534.0 311.5 L537.4 296.8 L540.9 313.8 L544.3 322.2 L547.7 332.0 L551.1 324.3 L554.5 319.4 L557.9 313.7 L561.3 309.3 L564.7 319.0 L568.2 322.8 L571.6 347.7 L575.0 338.6 L578.4 322.2 L581.8 310.5 L585.2 320.4 L588.6 327.5 L592.0 333.9 L595.5 340.0 L598.9 333.9 L602.3 329.5 L605.7 319.0 L609.1 315.2 L612.5 321.1 L615.9 326.9 L619.3 338.6 L622.8 324.3 L626.2 309.5 L629.6 320.4 L633.0 313.7 L636.4 306.1 L639.8 328.3 L643.2 334.7 L646.6 324.3 L650.1 309.9 L653.5 304.1 L656.9 298.2 L660.3 290.5 L663.7 303.4 L667.1 329.5 L670.5 316.9 L673.9 291.7 L677.4 283.4 L680.8 283.2 L684.2 277.5 L687.6 289.2 L691.0 309.4 L694.4 315.8 L697.8 269.7 L701.2 279.8 L704.6 228.3 L708.1 89.6 L711.5 155.9 L714.9 267.9 L718.3 274.7 L721.7 228.9 L725.1 258.7 L728.5 276.4 L732.0 266.2 L735.4 258.7 L738.8 313.0 L742.2 300.1 L745.6 294.0 L749.0 296.6 L752.4 298.4 L755.8 306.2 L759.2 312.0 L762.7 325.6 L766.1 317.1 L769.5 295.7 L772.9 297.7 L776.3 358.7 L779.7 234.0 L783.1 296.7 L786.6 304.2 L790.0 296.7 L793.4 279.1 L796.8 283.2" fill="none" stroke="#7cb900" stroke-width="4" stroke-linejoin="round" stroke-linecap="round"/>
<g fill="#7cb900" stroke="#fff" stroke-width="1.8">
<circle cx="796.8" cy="283.2" r="5.4"/>
<circle cx="793.4" cy="279.1" r="5.4"/>
<circle cx="790.0" cy="296.7" r="5.4"/>
<circle cx="786.6" cy="304.2" r="5.4"/>
<circle cx="783.1" cy="296.7" r="5.4"/>
<circle cx="779.7" cy="234.0" r="5.4"/>
<circle cx="776.3" cy="358.7" r="5.4"/>
<circle cx="772.9" cy="297.7" r="5.4"/>
<circle cx="769.5" cy="295.7" r="5.4"/>
<circle cx="766.1" cy="317.1" r="5.4"/>
<circle cx="762.7" cy="325.6" r="5.4"/>
<circle cx="759.2" cy="312.0" r="5.4"/>
<circle cx="755.8" cy="306.2" r="5.4"/>
<circle cx="752.4" cy="298.4" r="5.4"/>
<circle cx="749.0" cy="296.6" r="5.4"/>
<circle cx="745.6" cy="294.0" r="5.4"/>
<circle cx="742.2" cy="300.1" r="5.4"/>
<circle cx="738.8" cy="313.0" r="5.4"/>
<circle cx="735.4" cy="258.7" r="5.4"/>
<circle cx="732.0" cy="266.2" r="5.4"/>
<circle cx="728.5" cy="276.4" r="5.4"/>
<circle cx="725.1" cy="258.7" r="5.4"/>
<circle cx="721.7" cy="228.9" r="5.4"/>
<circle cx="718.3" cy="274.7" r="5.4"/>
<circle cx="714.9" cy="267.9" r="5.4"/>
<circle cx="711.5" cy="155.9" r="5.4"/>
<circle cx="708.1" cy="89.6" r="5.4"/>
<circle cx="704.6" cy="228.3" r="5.4"/>
<circle cx="701.2" cy="279.8" r="5.4"/>
<circle cx="697.8" cy="269.7" r="5.4"/>
<circle cx="694.4" cy="315.8" r="5.4"/>
<circle cx="691.0" cy="309.4" r="5.4"/>
<circle cx="687.6" cy="289.2" r="5.4"/>
<circle cx="684.2" cy="277.5" r="5.4"/>
<circle cx="680.8" cy="283.2" r="5.4"/>
<circle cx="677.4" cy="283.4" r="5.4"/>
<circle cx="673.9" cy="291.7" r="5.4"/>
<circle cx="670.5" cy="316.9" r="5.4"/>
<circle cx="667.1" cy="329.5" r="5.4"/>
<circle cx="663.7" cy="303.4" r="5.4"/>
<circle cx="660.3" cy="290.5" r="5.4"/>
<circle cx="656.9" cy="298.2" r="5.4"/>
<circle cx="653.5" cy="304.1" r="5.4"/>
<circle cx="650.1" cy="309.9" r="5.4"/>
<circle cx="646.6" cy="324.3" r="5.4"/>
<circle cx="643.2" cy="334.7" r="5.4"/>
<circle cx="639.8" cy="328.3" r="5.4"/>
<circle cx="636.4" cy="306.1" r="5.4"/>
<circle cx="633.0" cy="313.7" r="5.4"/>
<circle cx="629.6" cy="320.4" r="5.4"/>
<circle cx="626.2" cy="309.5" r="5.4"/>
<circle cx="622.8" cy="324.3" r="5.4"/>
<circle cx="619.3" cy="338.6" r="5.4"/>
<circle cx="615.9" cy="326.9" r="5.4"/>
<circle cx="612.5" cy="321.1" r="5.4"/>
<circle cx="609.1" cy="315.2" r="5.4"/>
<circle cx="605.7" cy="319.0" r="5.4"/>
<circle cx="602.3" cy="329.5" r="5.4"/>
<circle cx="598.9" cy="333.9" r="5.4"/>
<circle cx="595.5" cy="340.0" r="5.4"/>
<circle cx="592.0" cy="333.9" r="5.4"/>
<circle cx="588.6" cy="327.5" r="5.4"/>
<circle cx="585.2" cy="320.4" r="5.4"/>
<circle cx="581.8" cy="310.5" r="5.4"/>
<circle cx="578.4" cy="322.2" r="5.4"/>
<circle cx="575.0" cy="338.6" r="5.4"/>
<circle cx="571.6" cy="347.7" r="5.4"/>
<circle cx="568.2" cy="322.8" r="5.4"/>
<circle cx="564.7" cy="319.0" r="5.4"/>
<circle cx="561.3" cy="309.3" r="5.4"/>
<circle cx="557.9" cy="313.7" r="5.4"/>
<circle cx="554.5" cy="319.4" r="5.4"/>
<circle cx="551.1" cy="324.3" r="5.4"/>
<circle cx="547.7" cy="332.0" r="5.4"/>
<circle cx="544.3" cy="322.2" r="5.4"/>
<circle cx="540.9" cy="313.8" r="5.4"/>
<circle cx="537.4" cy="296.8" r="5.4"/>
<circle cx="534.0" cy="311.5" r="5.4"/>
<circle cx="530.6" cy="280.6" r="5.4"/>
<circle cx="527.2" cy="332.0" r="5.4"/>
<circle cx="523.8" cy="319.4" r="5.4"/>
<circle cx="520.4" cy="305.9" r="5.4"/>
<circle cx="517.0" cy="296.8" r="5.4"/>
<circle cx="513.5" cy="295.7" r="5.4"/>
<circle cx="510.1" cy="293.4" r="5.4"/>
<circle cx="506.7" cy="290.5" r="5.4"/>
<circle cx="503.3" cy="329.6" r="5.4"/>
<circle cx="499.9" cy="334.2" r="5.4"/>
<circle cx="496.5" cy="292.7" r="5.4"/>
<circle cx="493.1" cy="307.0" r="5.4"/>
<circle cx="489.7" cy="309.4" r="5.4"/>
<circle cx="486.2" cy="312.6" r="5.4"/>
<circle cx="482.8" cy="304.7" r="5.4"/>
<circle cx="479.4" cy="313.7" r="5.4"/>
<circle cx="476.0" cy="320.6" r="5.4"/>
<circle cx="472.6" cy="296.8" r="5.4"/>
<circle cx="469.2" cy="278.7" r="5.4"/>
<circle cx="465.8" cy="299.1" r="5.4"/>
<circle cx="462.4" cy="299.8" r="5.4"/>
<circle cx="458.9" cy="297.9" r="5.4"/>
<circle cx="455.5" cy="304.7" r="5.4"/>
<circle cx="452.1" cy="317.2" r="5.4"/>
<circle cx="448.7" cy="312.6" r="5.4"/>
<circle cx="445.3" cy="307.0" r="5.4"/>
<circle cx="441.9" cy="311.5" r="5.4"/>
<circle cx="438.5" cy="316.1" r="5.4"/>
<circle cx="435.1" cy="322.2" r="5.4"/>
<circle cx="431.7" cy="329.6" r="5.4"/>
<circle cx="428.2" cy="341.0" r="5.4"/>
<circle cx="424.8" cy="344.4" r="5.4"/>
<circle cx="421.4" cy="326.2" r="5.4"/>
<circle cx="418.0" cy="346.7" r="5.4"/>
<circle cx="414.6" cy="327.4" r="5.4"/>
<circle cx="411.2" cy="332.8" r="5.4"/>
<circle cx="407.8" cy="337.6" r="5.4"/>
<circle cx="404.4" cy="343.3" r="5.4"/>
<circle cx="400.9" cy="338.2" r="5.4"/>
<circle cx="397.5" cy="333.0" r="5.4"/>
<circle cx="394.1" cy="335.0" r="5.4"/>
<circle cx="390.7" cy="336.4" r="5.4"/>
<circle cx="387.3" cy="331.8" r="5.4"/>
<circle cx="383.9" cy="326.2" r="5.4"/>
<circle cx="380.5" cy="338.7" r="5.4"/>
<circle cx="377.1" cy="330.8" r="5.4"/>
<circle cx="373.6" cy="324.4" r="5.4"/>
<circle cx="370.2" cy="344.4" r="5.4"/>
<circle cx="366.8" cy="333.0" r="5.4"/>
<circle cx="363.4" cy="325.2" r="5.4"/>
<circle cx="360.0" cy="279.2" r="5.4"/>
<circle cx="356.6" cy="350.1" r="5.4"/>
<circle cx="353.2" cy="333.9" r="5.4"/>
<circle cx="349.8" cy="329.6" r="5.4"/>
<circle cx="346.3" cy="328.6" r="5.4"/>
<circle cx="342.9" cy="328.0" r="5.4"/>
<circle cx="339.5" cy="329.1" r="5.4"/>
<circle cx="336.1" cy="328.6" r="5.4"/>
<circle cx="332.7" cy="338.7" r="5.4"/>
<circle cx="329.3" cy="329.1" r="5.4"/>
<circle cx="325.9" cy="331.8" r="5.4"/>
<circle cx="322.5" cy="335.3" r="5.4"/>
<circle cx="319.0" cy="332.8" r="5.4"/>
<circle cx="315.6" cy="328.6" r="5.4"/>
<circle cx="312.2" cy="325.2" r="5.4"/>
<circle cx="308.8" cy="344.9" r="5.4"/>
<circle cx="305.4" cy="330.8" r="5.4"/>
<circle cx="302.0" cy="324.4" r="5.4"/>
<circle cx="298.6" cy="323.9" r="5.4"/>
<circle cx="295.1" cy="336.1" r="5.4"/>
<circle cx="291.7" cy="318.5" r="5.4"/>
<circle cx="288.3" cy="341.2" r="5.4"/>
<circle cx="284.9" cy="338.2" r="5.4"/>
<circle cx="281.5" cy="339.2" r="5.4"/>
<circle cx="278.1" cy="335.0" r="5.4"/>
<circle cx="274.7" cy="329.0" r="5.4"/>
<circle cx="271.3" cy="331.0" r="5.4"/>
<circle cx="267.9" cy="318.9" r="5.4"/>
<circle cx="264.4" cy="331.8" r="5.4"/>
<circle cx="261.0" cy="336.1" r="5.4"/>
<circle cx="257.6" cy="343.3" r="5.4"/>
<circle cx="254.2" cy="339.8" r="5.4"/>
<circle cx="250.8" cy="338.2" r="5.4"/>
<circle cx="247.4" cy="335.8" r="5.4"/>
<circle cx="244.0" cy="334.7" r="5.4"/>
<circle cx="240.6" cy="340.3" r="5.4"/>
<circle cx="237.1" cy="346.7" r="5.4"/>
<circle cx="233.7" cy="352.5" r="5.4"/>
<circle cx="230.3" cy="346.4" r="5.4"/>
<circle cx="226.9" cy="348.6" r="5.4"/>
<circle cx="223.5" cy="346.4" r="5.4"/>
<circle cx="220.1" cy="353.5" r="5.4"/>
<circle cx="216.7" cy="344.3" r="5.4"/>
<circle cx="213.2" cy="352.5" r="5.4"/>
<circle cx="209.8" cy="353.4" r="5.4"/>
<circle cx="206.4" cy="352.3" r="5.4"/>
<circle cx="203.0" cy="352.8" r="5.4"/>
<circle cx="199.6" cy="351.5" r="5.4"/>
<circle cx="196.2" cy="354.7" r="5.4"/>
<circle cx="192.8" cy="355.0" r="5.4"/>
<circle cx="189.4" cy="355.5" r="5.4"/>
<circle cx="185.9" cy="356.8" r="5.4"/>
<circle cx="182.5" cy="346.1" r="5.4"/>
<circle cx="179.1" cy="358.7" r="5.4"/>
<circle cx="175.7" cy="358.7" r="5.4"/>
<circle cx="172.3" cy="358.7" r="5.4"/>
<circle cx="168.9" cy="358.7" r="5.4"/>
<circle cx="165.5" cy="358.7" r="5.4"/>
<circle cx="162.1" cy="358.7" r="5.4"/>
<circle cx="158.7" cy="358.7" r="5.4"/>
<circle cx="155.2" cy="358.7" r="5.4"/>
<circle cx="151.8" cy="358.7" r="5.4"/>
<circle cx="148.4" cy="358.7" r="5.4"/>
<circle cx="145.0" cy="358.7" r="5.4"/>
<circle cx="141.6" cy="358.7" r="5.4"/>
<circle cx="138.2" cy="358.7" r="5.4"/>
<circle cx="134.8" cy="358.7" r="5.4"/>
<circle cx="131.3" cy="358.7" r="5.4"/>
<circle cx="127.9" cy="358.7" r="5.4"/>
<circle cx="124.5" cy="358.7" r="5.4"/>
<circle cx="121.1" cy="358.7" r="5.4"/>
<circle cx="117.7" cy="358.7" r="5.4"/>
<circle cx="114.3" cy="358.7" r="5.4"/>
<circle cx="110.9" cy="358.7" r="5.4"/>
<circle cx="107.5" cy="358.7" r="5.4"/>
<circle cx="104.0" cy="358.7" r="5.4"/>
<circle cx="100.6" cy="358.7" r="5.4"/>
<circle cx="97.2" cy="358.7" r="5.4"/>
<circle cx="93.8" cy="358.7" r="5.4"/>
<circle cx="90.4" cy="358.7" r="5.4"/>
<circle cx="87.0" cy="358.7" r="5.4"/>
<circle cx="83.6" cy="358.7" r="5.4"/>
<circle cx="76.8" cy="358.7" r="5.4"/>
</g>
<path d="M276.9 424.5 H292.1" stroke="#f15c00" stroke-width="4"/><circle cx="284.5" cy="424.5" r="5.5" fill="#f15c00" stroke="#fff" stroke-width="2"/><text x="297.5" y="429" font-size="12" font-weight="bold" fill="#333" textLength="67" lengthAdjust="spacingAndGlyphs">Zachorowania</text>
<path d="M382.4 424.5 H397.6" stroke="#434348" stroke-width="4"/><circle cx="390" cy="424.5" r="5.5" fill="#434348" stroke="#fff" stroke-width="2"/><text x="402" y="429" font-size="12" font-weight="bold" fill="#333" textLength="30.5" lengthAdjust="spacingAndGlyphs">Zgony</text>
<path d="M450.4 424.5 H465.6" stroke="#7cb900" stroke-width="4"/><circle cx="458" cy="424.5" r="5.5" fill="#7cb900" stroke="#fff" stroke-width="2"/><text x="470" y="429" font-size="12" font-weight="bold" fill="#333" textLength="67" lengthAdjust="spacingAndGlyphs">Wyzdrowienia</text>
<g>
<path d="M648 95 H809.8 Q811.8 95 811.8 97 V133.2 Q811.8 135.2 809.8 135.2 H802.9 L796.9 141.1 L790.9 135.2 H648 Q646 135.2 646 133.2 V97 Q646 95 648 95 Z" fill="none" stroke="#000" stroke-opacity="0.05" stroke-width="5" transform="translate(1,1)"/>
<path d="M648 95 H809.8 Q811.8 95 811.8 97 V133.2 Q811.8 135.2 809.8 135.2 H802.9 L796.9 141.1 L790.9 135.2 H648 Q646 135.2 646 133.2 V97 Q646 95 648 95 Z" fill="none" stroke="#000" stroke-opacity="0.08" stroke-width="3" transform="translate(1,1)"/>
<path d="M648 95 H809.8 Q811.8 95 811.8 97 V133.2 Q811.8 135.2 809.8 135.2 H802.9 L796.9 141.1 L790.9 135.2 H648 Q646 135.2 646 133.2 V97 Q646 95 648 95 Z" fill="none" stroke="#000" stroke-opacity="0.12" stroke-width="1" transform="translate(1,1)"/>
<path d="M648 95 H809.8 Q811.8 95 811.8 97 V133.2 Q811.8 135.2 809.8 135.2 H802.9 L796.9 141.1 L790.9 135.2 H648 Q646 135.2 646 133.2 V97 Q646 95 648 95 Z" fill="#f7f7f7" fill-opacity="0.85" stroke="#f15c00" stroke-opacity="0.7" stroke-width="1.4"/>
<text x="653" y="112" font-size="12" font-weight="bold" fill="#333" textLength="150" lengthAdjust="spacingAndGlyphs">czwartek, 01 Październik 2020</text>
<text x="653.2" y="126.0" font-size="10.5" fill="#f15c00">●</text>
<text x="662.4" y="126.3" font-size="12" fill="#333" textLength="70.4" lengthAdjust="spacingAndGlyphs">Zachorowania:</text>
<text x="736.4" y="126.3" font-size="12" font-weight="bold" fill="#333" textLength="26.5" lengthAdjust="spacingAndGlyphs">1 967</text>
</g>
</svg>
</body></html>
